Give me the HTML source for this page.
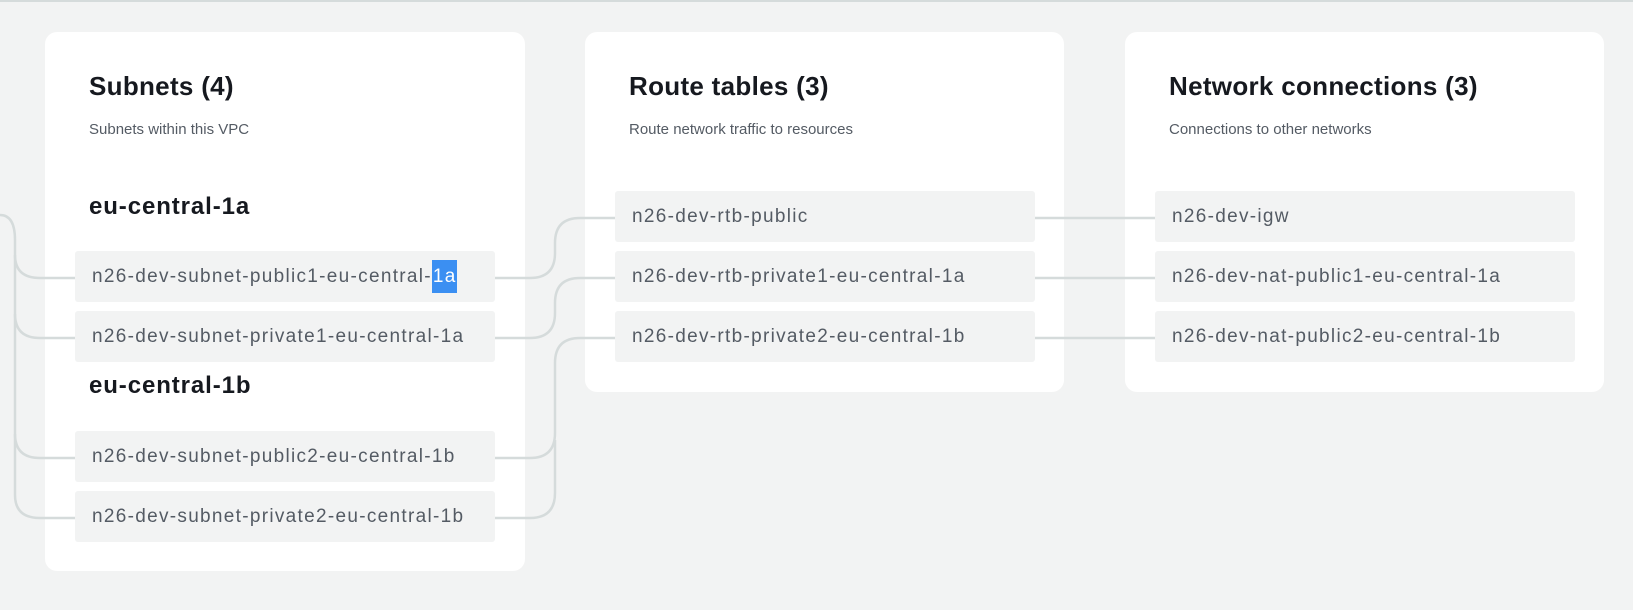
<!DOCTYPE html>
<html><head><meta charset="utf-8"><style>
body{margin:0;width:1633px;height:610px;background:#f2f3f3;position:relative;overflow:hidden;font-family:"Liberation Sans",sans-serif}
.topline{position:absolute;left:0;top:0;width:1633px;height:2px;background:#d5dbdb}
.card{position:absolute;background:#fff;border-radius:12px}
.t{position:absolute;font-weight:bold;font-size:26px;letter-spacing:0.3px;color:#16191f;white-space:nowrap;line-height:1}
.s{position:absolute;font-size:15px;color:#545b64;white-space:nowrap;line-height:1}
.h{position:absolute;font-weight:bold;font-size:24px;letter-spacing:0.9px;color:#16191f;white-space:nowrap;line-height:1}
.it{position:absolute;background:#f2f3f3;border-radius:3px;height:51px;box-sizing:border-box;padding-left:17px;font-size:19px;letter-spacing:1.3px;color:#545b64;line-height:51px;white-space:nowrap}
.sel{background:#3b8ff2;color:#fff;padding:6px 0 6px 1px}
svg{position:absolute;left:0;top:0}
</style></head><body>
<div class="topline"></div>
<div class="card" style="left:45px;top:32px;width:480px;height:539px"></div>
<div class="card" style="left:585px;top:32px;width:479px;height:360px"></div>
<div class="card" style="left:1125px;top:32px;width:479px;height:360px"></div>

<svg width="1633" height="610">
<g fill="none" stroke="#d5dbdb" stroke-width="2.5">
<path d="M0 215 Q15 215 15 240 L15 495 Q15 518 40 518 L75 518"/>
<path d="M15 255 Q15 278 40 278 L75 278"/>
<path d="M15 314 Q15 338 40 338 L75 338"/>
<path d="M15 434 Q15 458 40 458 L75 458"/>
<path d="M495 278 L530 278 Q555 278 555 253 L555 243 Q555 218 580 218 L615 218"/>
<path d="M495 338 L530 338 Q555 338 555 313 L555 303 Q555 278 580 278 L615 278"/>
<path d="M495 458 L530 458 Q555 458 555 433 L555 363 Q555 338 580 338 L615 338"/>
<path d="M495 518 L530 518 Q555 518 555 493 L555 440"/>
<path d="M1034 218 L1155 218"/>
<path d="M1034 278 L1155 278"/>
<path d="M1034 338 L1155 338"/>
</g></svg>

<div class="t" style="left:89px;top:73px">Subnets (4)</div>
<div class="s" style="left:89px;top:122px">Subnets within this VPC</div>
<div class="h" style="left:89px;top:195px">eu-central-1a</div>
<div class="it" style="left:75px;top:251px;width:420px">n26-dev-subnet-public1-eu-central-<span class="sel">1a</span></div>
<div class="it" style="left:75px;top:311px;width:420px">n26-dev-subnet-private1-eu-central-1a</div>
<div class="h" style="left:89px;top:374px">eu-central-1b</div>
<div class="it" style="left:75px;top:431px;width:420px">n26-dev-subnet-public2-eu-central-1b</div>
<div class="it" style="left:75px;top:491px;width:420px">n26-dev-subnet-private2-eu-central-1b</div>

<div class="t" style="left:629px;top:73px">Route tables (3)</div>
<div class="s" style="left:629px;top:122px">Route network traffic to resources</div>
<div class="it" style="left:615px;top:191px;width:420px">n26-dev-rtb-public</div>
<div class="it" style="left:615px;top:251px;width:420px">n26-dev-rtb-private1-eu-central-1a</div>
<div class="it" style="left:615px;top:311px;width:420px">n26-dev-rtb-private2-eu-central-1b</div>

<div class="t" style="left:1169px;top:73px">Network connections (3)</div>
<div class="s" style="left:1169px;top:122px">Connections to other networks</div>
<div class="it" style="left:1155px;top:191px;width:420px">n26-dev-igw</div>
<div class="it" style="left:1155px;top:251px;width:420px">n26-dev-nat-public1-eu-central-1a</div>
<div class="it" style="left:1155px;top:311px;width:420px">n26-dev-nat-public2-eu-central-1b</div>
</body></html>
